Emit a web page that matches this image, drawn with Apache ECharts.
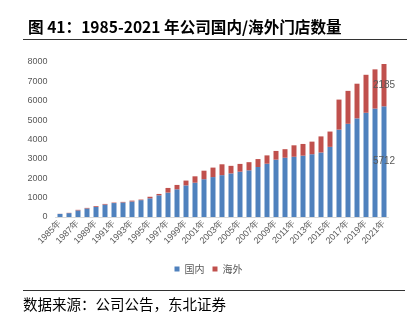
<!DOCTYPE html>
<html><head><meta charset="utf-8">
<script src="https://cdn.jsdelivr.net/npm/echarts@6/dist/echarts.min.js"></script>
<style>html,body{margin:0;padding:0;background:#fff}#c{width:417px;height:321px}</style>
</head><body><div id="c"></div>
<script>
const years = ['1985年','1986年','1987年','1988年','1989年','1990年','1991年','1992年','1993年','1994年','1995年','1996年','1997年','1998年','1999年','2000年','2001年','2002年','2003年','2004年','2005年','2006年','2007年','2008年','2009年','2010年','2011年','2012年','2013年','2014年','2015年','2016年','2017年','2018年','2019年','2020年','2021年'];
const domestic = [160,200,340,440,520,640,720,750,800,870,965,1120,1260,1430,1630,1770,1950,2060,2160,2250,2340,2410,2580,2750,2960,3060,3110,3165,3240,3330,3620,4510,4810,5090,5380,5595,5712];
const overseas = [5,15,30,30,40,35,25,30,45,30,80,70,240,225,250,330,440,490,560,390,400,420,410,430,450,440,590,605,650,830,790,1550,1700,1790,1960,2025,2185];
const yTicks = [0,1000,2000,3000,4000,5000,6000,7000,8000];
const seriesNames = ['国内','海外'];
const titleText = '图 41：1985-2021 年公司国内/海外门店数量';
const sourceText = '数据来源：公司公告，东北证券';

const last = years.length - 1;
const chart = echarts.init(document.getElementById('c'));
const lbl = (arr) => ({
  show: true, position: 'inside', color: '#595959', fontSize: 10, fontFamily: 'Liberation Sans',
  formatter: p => p.dataIndex === last ? String(arr[last]) : ''
});
chart.setOption({
  animation: false,
  title: {text: titleText, left: 23, top: 14, textStyle: {fontSize: 15.6, fontWeight: 'bold', color: '#000', fontFamily: 'Noto Sans CJK SC'}},
  graphic: [
    {type: 'line', shape: {x1: 23, y1: 39.5, x2: 407, y2: 39.5}, style: {stroke: '#333', lineWidth: 1}},
    {type: 'line', shape: {x1: 23, y1: 290.5, x2: 405, y2: 290.5}, style: {stroke: '#333', lineWidth: 1}},
    {type: 'text', left: 23, top: 297, style: {text: sourceText, fontSize: 14.5, fill: '#000', fontFamily: 'Noto Sans CJK SC'}}
  ],
  legend: {data: seriesNames, top: 259, left: 'center', itemWidth: 5, itemHeight: 5, itemGap: 8, icon: 'rect',
    textStyle: {fontSize: 10, color: '#595959', fontFamily: 'Noto Sans CJK SC'}},
  grid: {left: 55.5, right: 28.5, top: 62, bottom: 104},
  xAxis: {type: 'category', data: years,
    axisLine: {lineStyle: {color: '#d9d9d9'}}, axisTick: {show: false},
    axisLabel: {rotate: 45, interval: 1, fontSize: 9, color: '#595959', fontFamily: 'Liberation Sans', margin: 5}},
  yAxis: {type: 'value', min: yTicks[0], max: yTicks[yTicks.length-1], interval: 1000,
    splitLine: {show: false}, axisLine: {show: false}, axisTick: {show: false},
    axisLabel: {fontSize: 9, color: '#595959', fontFamily: 'Liberation Sans', margin: 8, formatter: v => String(v)}},
  series: [
    {name: seriesNames[0], type: 'bar', stack: 's', data: domestic, barWidth: 5, itemStyle: {color: '#4F81BD'}, label: lbl(domestic)},
    {name: seriesNames[1], type: 'bar', stack: 's', data: overseas, barWidth: 5, itemStyle: {color: '#C0504D'}, label: lbl(overseas)}
  ]
});
</script></body></html>
